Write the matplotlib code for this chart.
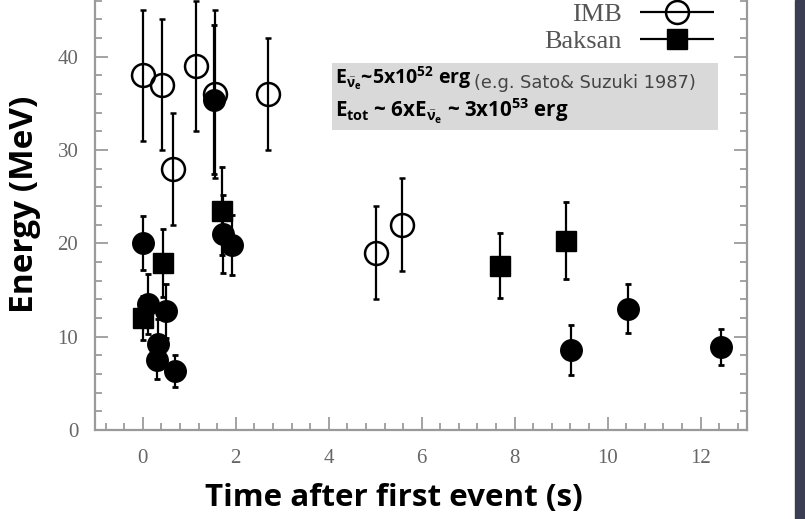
"""
SN1987A neutrino events: energy vs. time after the first event
for the Kamiokande-II, IMB and Baksan detectors.
"""
import matplotlib
matplotlib.use('Agg')

import matplotlib.pyplot as plt
from matplotlib.patches import Rectangle
from matplotlib.legend_handler import HandlerErrorbar
from matplotlib.ticker import MultipleLocator

# Kamiokande-II events (filled circles)
kam_t = [0.0, 0.107, 0.303, 0.324, 0.507, 0.686, 1.541, 1.728, 1.915, 9.219, 10.433, 12.439]
kam_e = [20.0, 13.5, 7.5, 9.2, 12.8, 6.3, 35.4, 21.0, 19.8, 8.6, 13.0, 8.9]
kam_err = [2.9, 3.2, 2.0, 2.7, 2.9, 1.7, 8.0, 4.2, 3.2, 2.7, 2.6, 1.9]

# IMB events (open circles)
imb_t = [0.0, 0.412, 0.650, 1.141, 1.562, 2.684, 5.010, 5.582]
imb_e = [38.0, 37.0, 28.0, 39.0, 36.0, 36.0, 19.0, 22.0]
imb_err = [7.0, 7.0, 6.0, 7.0, 9.0, 6.0, 5.0, 5.0]

# Baksan events (filled squares)
bak_t = [0.0, 0.435, 1.710, 7.687, 9.099]
bak_e = [12.0, 17.9, 23.5, 17.6, 20.3]
bak_err = [2.4, 3.6, 4.7, 3.5, 4.1]

XLIM = (-1.03, 13.0)
YLIM = (0, 50)
YTICKS = [0, 10, 20, 30, 40]

plt.rcParams['mathtext.fontset'] = 'custom'
plt.rcParams['mathtext.rm'] = 'Open Sans:bold'
plt.rcParams['mathtext.it'] = 'Open Sans:bold'
plt.rcParams['mathtext.bf'] = 'Open Sans:bold'

W, H = 805, 519
fig = plt.figure(figsize=(W / 100, H / 100), dpi=100)

# dark page edge on the right
fig.patches.append(Rectangle((795 / W, 0), 1 - 795 / W, 1, transform=fig.transFigure,
                             color='#3b3d52', zorder=0))

ax = fig.add_axes([95 / W, 1 - 430 / H, 652 / W, 466.5 / H])
ax.set_xlim(*XLIM)
ax.set_ylim(*YLIM)

ebar = dict(ecolor='black', elinewidth=1.6, capsize=2.5, capthick=2.0, linestyle='none')

ax.errorbar(imb_t, imb_e, yerr=imb_err, fmt='o', ms=16.5, mfc='none', mec='black',
            mew=1.8, zorder=3, **ebar)
ax.errorbar(kam_t, kam_e, yerr=kam_err, fmt='o', ms=15.5, mfc='black', mec='black',
            zorder=4, **ebar)
ax.errorbar(bak_t, bak_e, yerr=bak_err, fmt='s', ms=14, mfc='black', mec='black',
            zorder=5, **ebar)

# legend handles: horizontal bar with caps through the marker
h_imb = ax.errorbar([], [], xerr=[], fmt='o', ms=16.5, mfc='none', mec='black', mew=1.8,
                    **ebar)
h_bak = ax.errorbar([], [], xerr=[], fmt='s', ms=14, mfc='black', mec='black', **ebar)
hl = 2.8
leg = ax.legend([h_imb, h_bak], ['IMB', 'Baksan'], loc='upper right',
                bbox_to_anchor=(714 / W, 1 - 3 / H), bbox_transform=fig.transFigure,
                frameon=False, markerfirst=False, numpoints=1, handlelength=hl,
                handletextpad=0.7, labelspacing=0.12, borderpad=0, borderaxespad=0,
                prop={'family': 'Liberation Serif', 'size': 19},
                handler_map={type(h_imb): HandlerErrorbar(xerr_size=hl / 2)})
for t in leg.get_texts():
    t.set_color('#555555')

# energy budget box
box_x0, box_x1 = (332 - 95) / 652, (718 - 95) / 652
box_y0, box_y1 = (430 - 130) / 466.5, (430 - 63) / 466.5
ax.add_patch(Rectangle((box_x0, box_y0), box_x1 - box_x0, box_y1 - box_y0,
                       transform=ax.transAxes, facecolor='#d9d9d9', edgecolor='none',
                       zorder=1))
t1 = ax.text((335 - 95) / 652, (430 - 84) / 466.5,
             r'E$_{\bar{\nu}_e}$~5x10$^{52}$ erg', transform=ax.transAxes,
             family='Open Sans', weight='bold', size=14, va='baseline', zorder=2)
ax.annotate('(e.g. Sato& Suzuki 1987)', xy=(1, 0), xycoords=t1, xytext=(2, 0),
            textcoords='offset points', va='bottom', family='DejaVu Sans', size=12.8,
            color='#444444', zorder=2)
ax.text((335 - 95) / 652, (430 - 118) / 466.5,
        r'E$_{tot}$ ~ 6xE$_{\bar{\nu}_e}$ ~ 3x10$^{53}$ erg', transform=ax.transAxes,
        family='Open Sans', weight='bold', size=14.8, va='baseline', zorder=2)

# axes styling
for side in ['left', 'right', 'bottom', 'top']:
    ax.spines[side].set_color('#9a9a9a')
    ax.spines[side].set_linewidth(1.6)

ax.xaxis.set_major_locator(MultipleLocator(2))
ax.xaxis.set_minor_locator(MultipleLocator(0.4))
ax.set_yticks(YTICKS)
ax.yaxis.set_minor_locator(MultipleLocator(2))
ax.tick_params(which='both', direction='in', top=True, right=True, color='#8a8a8a',
               width=1.1, labelcolor='#666666', labelsize=15)
ax.tick_params(which='major', length=9.5)
ax.tick_params(which='minor', length=5)
ax.tick_params(axis='x', pad=14)
ax.tick_params(axis='y', pad=12)
for lab in ax.get_xticklabels() + ax.get_yticklabels():
    lab.set_family('Liberation Serif')

ax.set_xlabel('Time after first event (s)', family='Open Sans', weight='bold', size=22.6)
ax.set_ylabel('Energy (MeV)', family='Open Sans', weight='bold', size=24)
ax.xaxis.set_label_coords((394 - 95) / 652, (430 - 483) / 466.5)
ax.yaxis.set_label_coords((41 - 95) / 652, (430 - 204) / 466.5)

fig.savefig('out.png', dpi=100)
